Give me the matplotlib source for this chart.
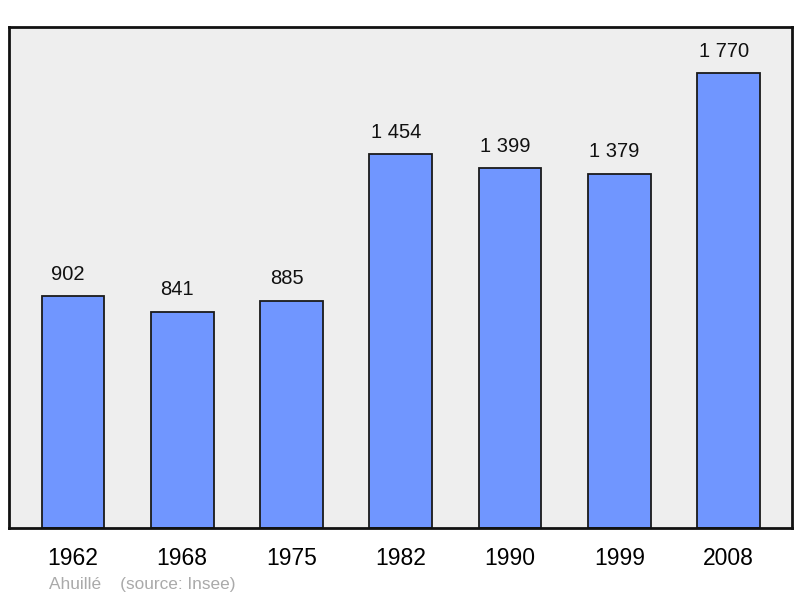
import matplotlib.pyplot as plt

years = ['1962', '1968', '1975', '1982', '1990', '1999', '2008']
population = [902, 841, 885, 1454, 1399, 1379, 1770]
value_labels = ['902', '841', '885', '1 454', '1 399', '1 379', '1 770']

plt.rcParams['font.family'] = ['Liberation Sans', 'DejaVu Sans']

fig = plt.figure(figsize=(8, 5.98), dpi=100)
ax = fig.add_axes([9 / 800, 70 / 598, 783 / 800, 501 / 598])
ax.set_facecolor('#eeeeee')

x = range(len(years))
bars = ax.bar(x, population, width=0.575, color='#7096ff', edgecolor='#1a1a1a', linewidth=1.3, zorder=2)

for bar, lab in zip(bars, value_labels):
    ax.annotate(lab, (bar.get_x() + bar.get_width() / 2, bar.get_height()),
                xytext=(-3.5, 9), textcoords='offset points',
                ha='center', va='bottom', fontsize=14.5, color='#111111')

ax.set_xlim(-0.585, 6.58)
ax.set_ylim(0, 1949)
ax.set_xticks(list(x))
ax.set_xticklabels(years, fontsize=16.5)
ax.tick_params(axis='x', length=0, pad=14)
ax.set_yticks([])
for s in ax.spines.values():
    s.set_linewidth(2)
    s.set_color('#111111')

fig.text(49 / 800, 1 - 584 / 598, 'Ahuillé    (source: Insee)', fontsize=12.4,
         color='#aaaaaa', va='center', ha='left')

fig.savefig('out.png', dpi=100)
